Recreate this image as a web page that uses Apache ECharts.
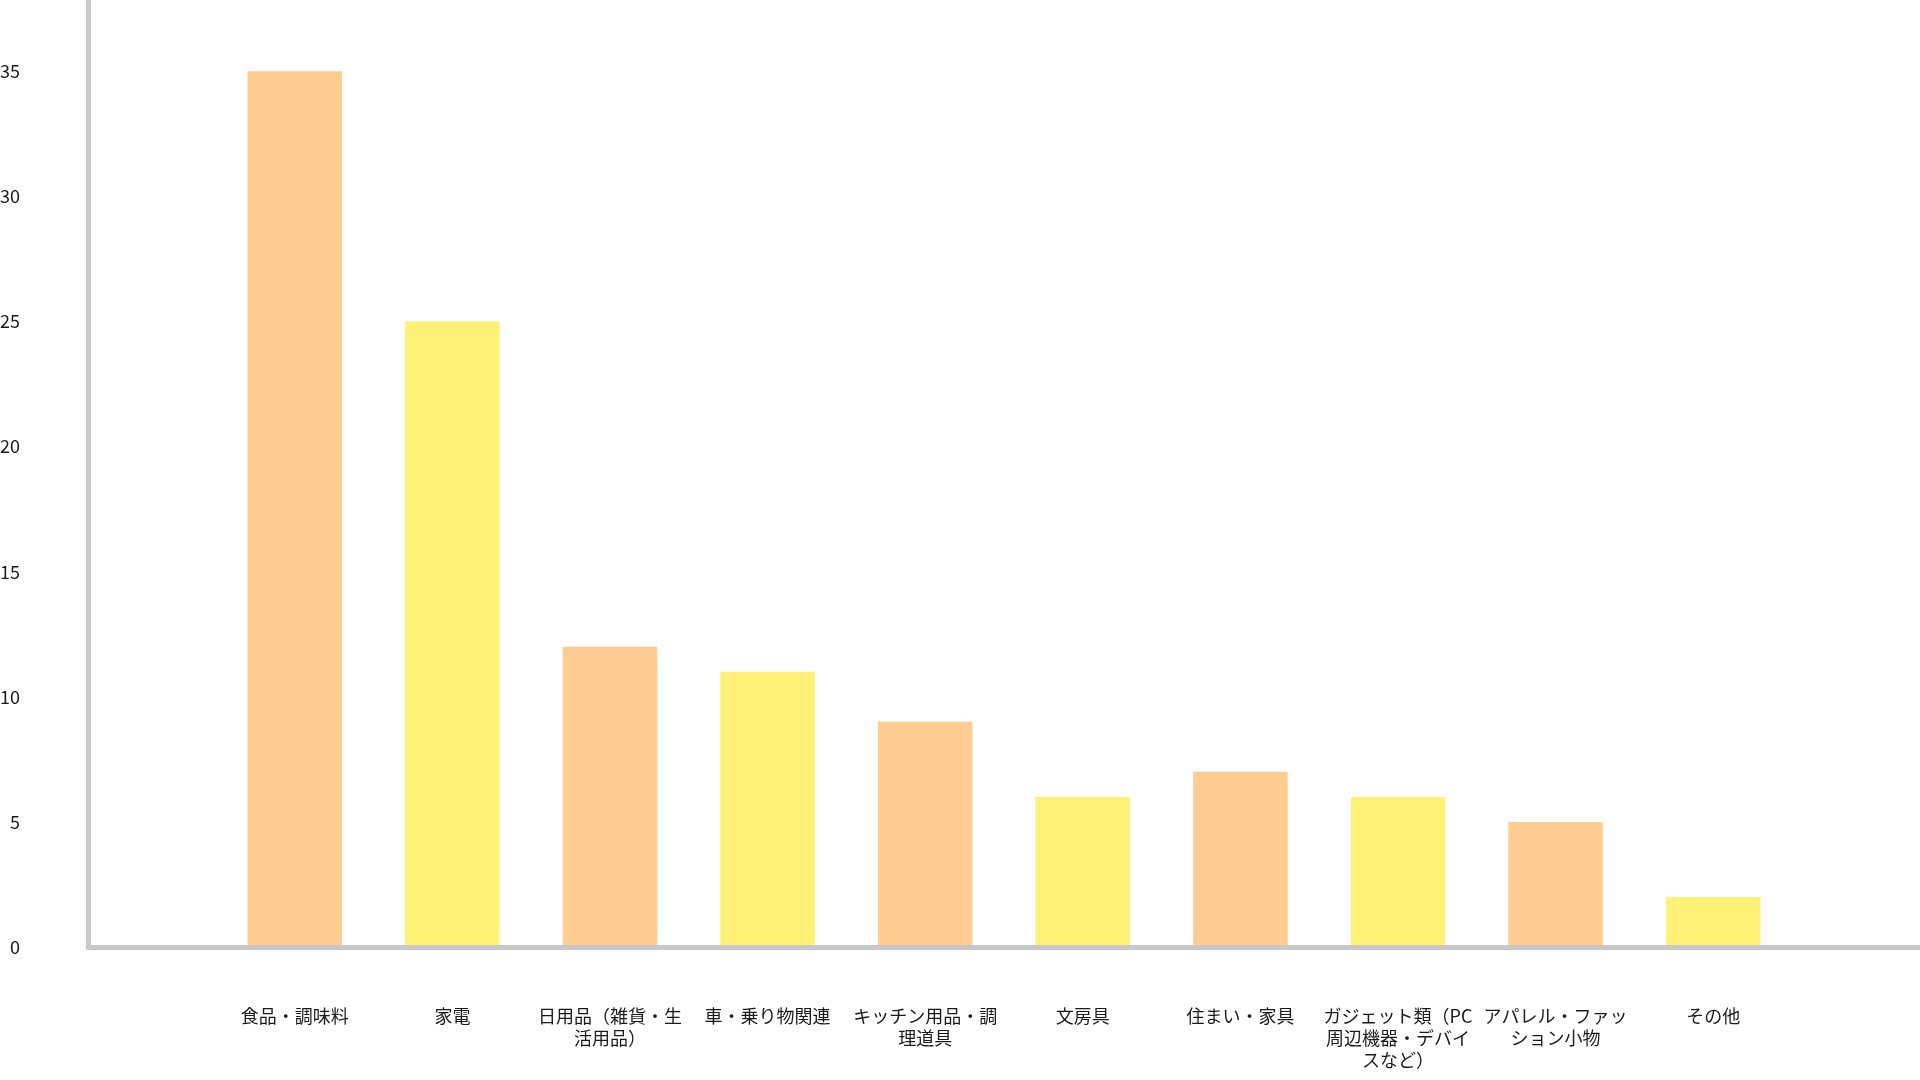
<!DOCTYPE html>
<html>
<head>
<meta charset="utf-8">
<script src="https://cdn.jsdelivr.net/npm/echarts@6/dist/echarts.min.js"></script>
<style>
  html, body { margin: 0; padding: 0; background: #fff; }
  #chart { width: 1920px; height: 1080px; }
</style>
</head>
<body>
<div id="chart"></div>
<script>
// カテゴリ
var categories = [
  '食品・調味料',
  '家電',
  '日用品（雑貨・生活用品）',
  '車・乗り物関連',
  'キッチン用品・調理道具',
  '文房具',
  '住まい・家具',
  'ガジェット類（PC周辺機器・デバイスなど）',
  'アパレル・ファッション小物',
  'その他'
]
// 件数
var values = [35, 25, 12, 11, 9, 6, 7, 6, 5, 2]
// 交互の色
var barColors = ['#ffcc91', '#fff176']

var chart = echarts.init(document.getElementById('chart'))
var font = '"Noto Sans CJK JP", "Noto Sans", sans-serif'
var axisGray = '#c8c8c8'

var option = {
  backgroundColor: '#fff',
  animation: false,
  grid: [
    // 棒グラフ
    { left: 216, right: 128, top: 0, bottom: 133, outerBoundsMode: 'none' },
    // 横軸の線だけ
    { left: 88, right: 0, top: 0, bottom: 133, outerBoundsMode: 'none' }
  ],
  xAxis: [
    {
      type: 'category',
      gridIndex: 0,
      data: categories,
      axisLine: { show: false },
      axisTick: { show: false },
      splitLine: { show: false },
      axisLabel: {
        interval: 0,
        margin: 58,
        color: '#1a1a1a',
        fontFamily: font,
        fontSize: 18,
        lineHeight: 22,
        width: 154,
        overflow: 'break'
      }
    },
    {
      type: 'value',
      gridIndex: 1,
      min: 0,
      max: 1,
      z: 5,
      axisLine: { show: true, lineStyle: { color: axisGray, width: 5 } },
      axisTick: { show: false },
      axisLabel: { show: false },
      splitLine: { show: false }
    }
  ],
  yAxis: [
    {
      type: 'value',
      gridIndex: 0,
      min: 0,
      max: 37.85,
      interval: 5,
      offset: 128,
      z: 5,
      axisLine: { show: true, lineStyle: { color: axisGray, width: 5 } },
      axisTick: { show: false },
      splitLine: { show: false },
      axisLabel: {
        showMaxLabel: false,
        margin: 68,
        color: '#1a1a1a',
        fontFamily: font,
        fontSize: 18
      }
    },
    {
      type: 'value',
      gridIndex: 1,
      min: 0,
      max: 1,
      show: false
    }
  ],
  series: [
    {
      type: 'bar',
      xAxisIndex: 0,
      yAxisIndex: 0,
      barWidth: '60%',
      data: values,
      itemStyle: {
        color: function (p) {
          return barColors[p.dataIndex % 2]
        }
      }
    }
  ]
}
chart.setOption(option)
</script>
</body>
</html>
